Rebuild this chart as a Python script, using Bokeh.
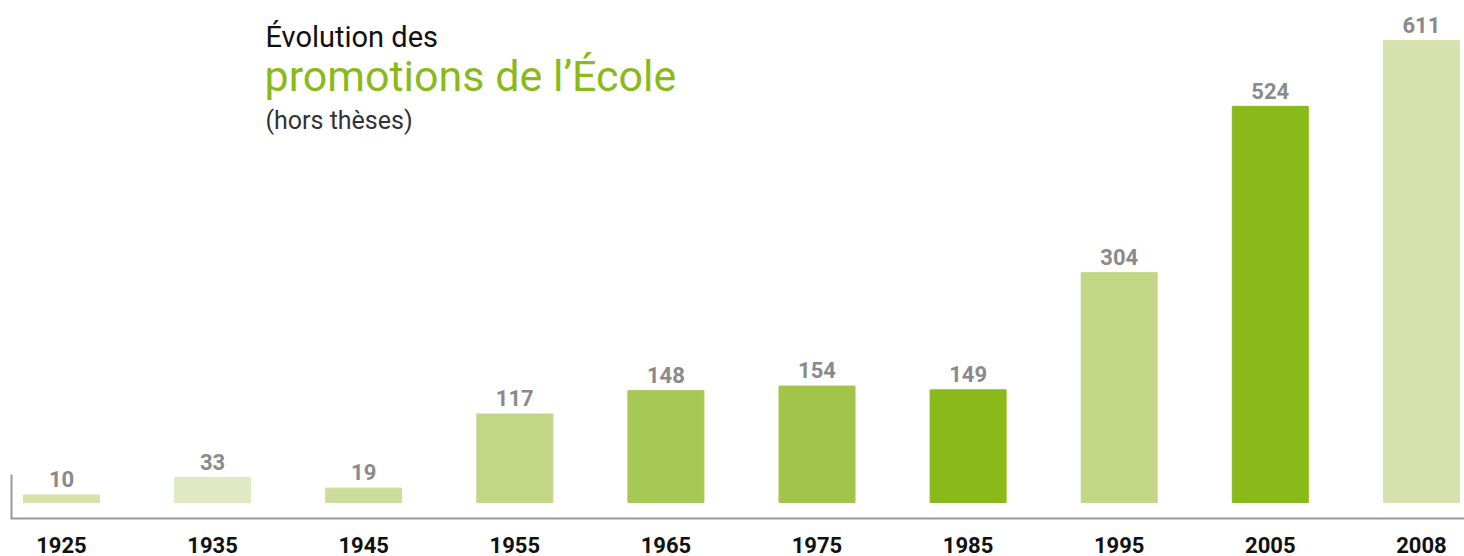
from bokeh.plotting import figure
from bokeh.models import Range1d, FixedTicker, Label, ColumnDataSource
from bokeh.core.properties import value
from bokeh.transform import dodge
from bokeh.embed import file_html
from bokeh.resources import INLINE

years = ["1925", "1935", "1945", "1955", "1965", "1975", "1985", "1995", "2005", "2008"]
graduates = [10, 33, 19, 117, 148, 154, 149, 304, 524, 611]
bar_colors = ["#d5e3a8", "#dfeac5", "#cbdd98", "#c2d686", "#a8c855",
              "#a3c44a", "#8ab91a", "#c2d686", "#8ab91a", "#d5e2ae"]

title_line1 = "Évolution des"
title_line2 = "promotions de l’École"
subtitle = "(hors thèses)"

FONT = "Roboto"

# layout helpers (page pixel -> data), layout only
PX_STEP = 151.1      # px between bar centres
PX_FIRST = 61.0      # page x of first bar centre
PX_Y0 = 502.0        # page y of value 0
PX_PER_UNIT = 0.756  # px per graduate
BASE_FIX = 0.35      # svg baseline correction, in em


def dx(px):
    return (px - PX_FIRST) / PX_STEP


def dy(py):
    return (PX_Y0 - py) / PX_PER_UNIT


idx = list(range(len(years)))
src = ColumnDataSource(dict(x=idx, top=graduates, color=bar_colors,
                            label=[str(v) for v in graduates]))

p = figure(width=1464, height=556, output_backend="svg", toolbar_location=None,
           x_range=Range1d(dx(0), dx(1464)), y_range=Range1d(dy(518), dy(0)),
           min_border_left=0, min_border_right=0, min_border_top=0,
           min_border_bottom=38, outline_line_color=None,
           background_fill_color="white", border_fill_color="white")
p.grid.visible = False
p.yaxis.visible = False

p.vbar(x="x", top="top", bottom=0, width=76 / PX_STEP, color="color", source=src)

VAL_SIZE = 22
p.text(x="x", y=dodge("top", (8 + BASE_FIX * VAL_SIZE) / PX_PER_UNIT), text="label",
       source=src, text_align="center", text_baseline="alphabetic",
       text_font=value(FONT), text_font_style="bold",
       text_font_size=f"{VAL_SIZE}px", text_color="#8a8a8a")

ax = p.xaxis[0]
ax.ticker = FixedTicker(ticks=idx)
ax.major_label_overrides = {i: y for i, y in zip(idx, years)}
ax.major_tick_line_color = None
ax.minor_tick_line_color = None
ax.major_label_standoff = 12
ax.major_label_text_font = FONT
ax.major_label_text_font_style = "bold"
ax.major_label_text_font_size = "22px"
ax.major_label_text_color = "#111111"
ax.axis_line_color = "#999999"
ax.axis_line_width = 2
ax.bounds = (dx(10), dx(1464))

# small vertical tick at the left of the baseline
p.segment(x0=[dx(11)], y0=[dy(474)], x1=[dx(11)], y1=[dy(518)],
          line_color="#999999", line_width=2)


def title_label(px, py, text, size, color):
    return Label(x=dx(px), y=dy(py - BASE_FIX * size), text=text, text_font=FONT,
                 text_font_size=f"{size}px", text_color=color,
                 text_baseline="alphabetic")


p.add_layout(title_label(265, 47, title_line1, 29, "#111111"))
p.add_layout(title_label(264, 91, title_line2, 43, "#8ab91a"))
p.add_layout(title_label(265, 129, subtitle, 25, "#333333"))

open("out.html", "w").write(file_html(p, INLINE))
